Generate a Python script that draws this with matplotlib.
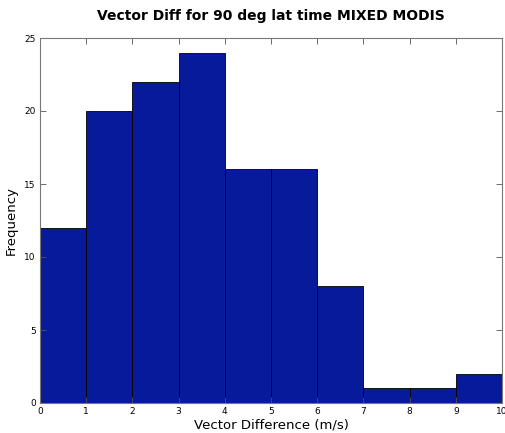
import numpy as np
import matplotlib.pyplot as plt

bin_edges = np.arange(0, 11)
counts = [12, 20, 22, 24, 16, 16, 8, 1, 1, 2]

fig = plt.figure(figsize=(5.06, 4.33), dpi=100)
ax = fig.add_axes([40 / 506, 30 / 433, 462 / 506, 365 / 433])

ax.bar(bin_edges[:-1], counts, width=1.0, align="edge",
       color="#061a9a", edgecolor="black", linewidth=0.6)

ax.set_xlim(0, 10)
ax.set_ylim(0, 25)
ax.set_xticks(range(0, 11))
ax.set_yticks(range(0, 26, 5))
ax.tick_params(direction="in", length=4, width=0.6, labelsize=6.5,
               top=True, right=True, color="#555555", pad=3)
for s in ax.spines.values():
    s.set_color("#777777")
    s.set_linewidth(0.8)

ax.set_xlabel("Vector Difference (m/s)", fontsize=9.5, labelpad=2)
ax.set_ylabel("Frequency", fontsize=9.5, labelpad=5)
ax.set_title("Vector Diff for 90 deg lat time MIXED MODIS",
             fontsize=10, fontweight="bold", pad=13)

fig.savefig("out.png", dpi=100)
